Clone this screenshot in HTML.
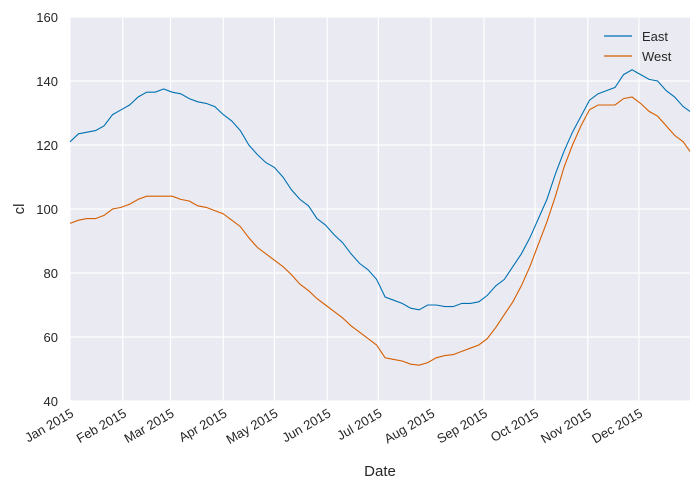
<!DOCTYPE html>
<html><head><meta charset="utf-8"><style>
body{margin:0;background:#fff;}
svg text{font-family:"Liberation Sans","DejaVu Sans",sans-serif;fill:#262626;}
</style></head><body>
<svg id="chart" width="700" height="490" xmlns="http://www.w3.org/2000/svg">
<rect x="70" y="17" width="620" height="384" fill="#eaeaf2"/>
<g id="grid"></g><g id="series"></g><g id="ticks"></g>
<text x="380" y="476" font-size="15" text-anchor="middle">Date</text>
<text transform="translate(24,209) rotate(-90)" font-size="15" text-anchor="middle">cl</text>
<g>
<line x1="604" y1="36" x2="632" y2="36" stroke="#0072b2" stroke-width="1.2"/>
<text x="642" y="41" font-size="13">East</text>
<line x1="604" y1="56" x2="632" y2="56" stroke="#d55e00" stroke-width="1.2"/>
<text x="642" y="61" font-size="13">West</text>
</g>
</svg>
<script>
const days=[0,5,10,15,20,25,30,35,40,45,50,55,60,65,70,75,80,85,90,95,100,105,110,115,120,125,130,135,140,145,150,155,160,165,170,175,180,185,190,195,200,205,210,215,220,225,230,235,240,245,250,255,260,265,270,275,280,285,290,295,300,305,310,315,320,325,330,335,340,345,350,355,360,364];
const east=[121,123.5,124,124.5,126,129.5,131,132.5,135,136.5,136.5,137.5,136.5,136,134.5,133.5,133,132,129.5,127.5,124.5,120,117,114.5,113,110,106,103,101,97,95,92,89.5,86,83,81,78,72.5,71.5,70.5,69,68.5,70,70,69.5,69.5,70.5,70.5,71,73,76,78,82,86,91,97,103,111,118,124,129,134,136,137,138,142,143.5,142,140.5,140,137,135,132,130.5];
const west=[95.5,96.5,97,97,98,100,100.5,101.5,103,104,104,104,104,103,102.5,101,100.5,99.5,98.5,96.5,94.5,91,88,86,84,82,79.5,76.5,74.5,72,70,68,66,63.5,61.5,59.5,57.5,53.5,53,52.5,51.5,51.2,52,53.5,54.2,54.5,55.5,56.5,57.5,59.5,63,67,71,76,82,89,96,104,113,120,126,131,132.5,132.5,132.5,134.5,135,133,130.5,129,126,123,121,118];
const yTicks=[40,60,80,100,120,140,160];
const monthLabels=["Jan 2015","Feb 2015","Mar 2015","Apr 2015","May 2015","Jun 2015","Jul 2015","Aug 2015","Sep 2015","Oct 2015","Nov 2015","Dec 2015"];
const monthDays=[0,31,59,90,120,151,181,212,243,273,304,334];
const NS="http://www.w3.org/2000/svg";
const X=d=>70+d*620/364, Y=v=>401-(v-40)*3.2;
function mk(t,a,p){const e=document.createElementNS(NS,t);for(const k in a)e.setAttribute(k,a[k]);p.appendChild(e);return e;}
const grid=document.getElementById('grid'),ticks=document.getElementById('ticks'),ser=document.getElementById('series');
yTicks.forEach(v=>{
 const l=mk('line',{x1:70,x2:690,y1:Y(v),y2:Y(v),stroke:'#fff','stroke-width':1.2},grid);
 
 
 const t=mk('text',{x:58,y:Y(v)+5,'font-size':13,'text-anchor':'end'},ticks);t.textContent=v;
 
 
});
monthDays.forEach((d,i)=>{
 const l=mk('line',{x1:X(d),x2:X(d),y1:17,y2:401,stroke:'#fff','stroke-width':1.2},grid);
 
 
 const t=mk('text',{transform:`translate(${X(d)},${408}) rotate(-30)`,'font-size':13,'text-anchor':'end',dy:'0.7em'},ticks);t.textContent=monthLabels[i];
 
 
});
[[east,'#0072b2','east-line'],[west,'#d55e00','west-line']].forEach(([s,c,n])=>{
 const p=mk('polyline',{points:s.map((v,i)=>X(days[i])+','+Y(v)).join(' '),fill:'none',stroke:c,'stroke-width':1.1},ser);
 
 
});
</script>
</body></html>
